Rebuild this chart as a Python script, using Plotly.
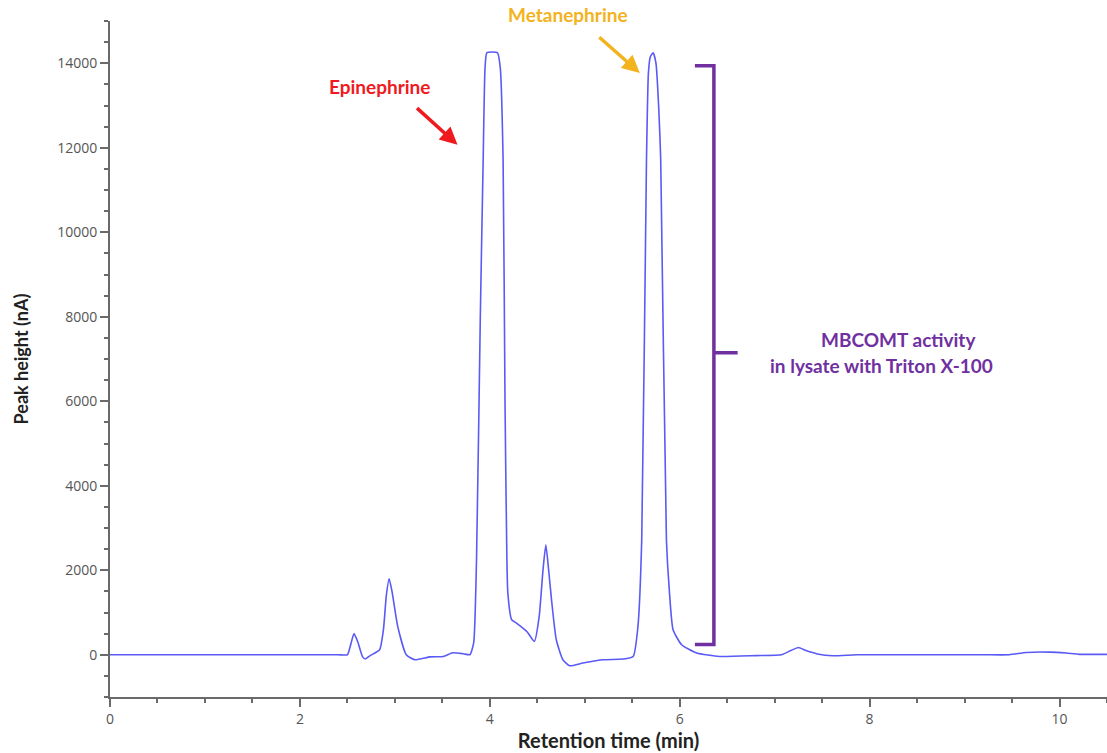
import plotly.graph_objects as go

# Chromatogram trace (retention time in min, peak height in nA)
time_min = [0, 1.0, 2.0, 2.40, 2.50, 2.53, 2.57, 2.61, 2.66, 2.69, 2.74, 2.84, 2.88, 2.91, 2.94, 2.97, 3.03,
            3.12, 3.21, 3.37, 3.51, 3.61, 3.72, 3.79, 3.83, 3.86, 3.90, 3.93, 3.95, 3.97,
            4.08, 4.11, 4.14, 4.16, 4.18, 4.19, 4.23, 4.28, 4.39, 4.47, 4.52, 4.56, 4.59,
            4.62, 4.65, 4.70, 4.77, 4.84, 4.98, 5.19, 5.40, 5.51, 5.56, 5.60, 5.65, 5.67,
            5.69, 5.72, 5.75, 5.78, 5.80, 5.86, 5.89, 5.93, 6.02, 6.18, 6.42, 6.8, 7.07, 7.17,
            7.25, 7.33, 7.45, 7.61, 7.86, 8.3, 8.8, 9.2, 9.47, 9.65, 9.90, 10.07, 10.21, 10.5]
peak_nA = [0, 0, 0, 0, 0, 200, 500, 300, -50, -100, -20, 118, 600, 1400, 1800, 1500, 670,
           0, -118, -50, -40, 47, 24, 0, 280, 2250, 8000, 11710, 13900, 14250,
           14250, 13900, 11710, 6000, 2250, 1460, 828, 750, 550, 316, 906, 2000, 2600,
           2000, 1300, 355, -118, -260, -197, -118, -102, -40, 670, 2720, 11710, 13760,
           14150, 14250, 14000, 12900, 11710, 2720, 1540, 590, 237, 40, -40, -20, 0, 100,
           173, 100, 20, -24, 0, 0, 0, 0, 0, 55, 63, 40, 10, 10]

x_ticks = [0, 2, 4, 6, 8, 10]
y_ticks = [0, 2000, 4000, 6000, 8000, 10000, 12000, 14000]

# Annotation anchors (data units; label of Metanephrine sits above the plot, in paper units)
epi_label = ("Epinephrine", 2.84, 13460)
epi_arrow_head = (3.66, 12070)
meta_label = ("Metanephrine", 4.82, 1.0089)
meta_arrow_head = (5.58, 13770)
bracket_x, bracket_arm_x, bracket_tip_x = 6.36, 6.16, 6.61
bracket_top, bracket_mid, bracket_bottom = 13940, 7150, 240
note_lines = [("MBCOMT activity", 8.30, 7450), ("in lysate with Triton X-100", 8.12, 6840)]

RED = "#f01a1e"
GOLD = "#f2b31c"
PURPLE = "#7030a0"
AXIS = "#6a6a6a"

fig = go.Figure()
fig.add_trace(go.Scatter(x=time_min, y=peak_nA, mode="lines",
                         line=dict(color="#5a5af5", width=1.6, shape="spline", smoothing=0.5),
                         hoverinfo="skip", showlegend=False))

# Bracket
bx, ba, bt = bracket_x, bracket_arm_x, bracket_tip_x
path = (f"M {ba},{bracket_top} L {bx},{bracket_top} L {bx},{bracket_mid} L {bt},{bracket_mid} "
        f"M {bx},{bracket_mid} L {bx},{bracket_bottom} L {ba},{bracket_bottom}")
fig.add_shape(type="path", path=path, xref="x", yref="y",
              line=dict(color=PURPLE, width=3.5))

# Labels and arrows
fig.add_annotation(x=epi_label[1], y=epi_label[2], text=f"<b>{epi_label[0]}</b>",
                   showarrow=False, font=dict(family="Lato", size=19, color=RED))
fig.add_annotation(x=epi_arrow_head[0], y=epi_arrow_head[1], ax=-42, ay=-38, text="",
                   showarrow=True, arrowhead=2, arrowsize=1, arrowwidth=3.5, arrowcolor=RED)
fig.add_annotation(x=meta_label[1], y=meta_label[2], yref="paper", yanchor="middle",
                   text=f"<b>{meta_label[0]}</b>",
                   showarrow=False, font=dict(family="Lato", size=19, color=GOLD))
fig.add_annotation(x=meta_arrow_head[0], y=meta_arrow_head[1], ax=-42, ay=-37, text="",
                   showarrow=True, arrowhead=2, arrowsize=1, arrowwidth=3.5, arrowcolor=GOLD)
for txt, xx, yy in note_lines:
    fig.add_annotation(x=xx, y=yy, text=f"<b>{txt}</b>", showarrow=False,
                       font=dict(family="Lato", size=19, color=PURPLE))

fig.update_xaxes(range=[0, 10.5], tickvals=x_ticks, ticktext=[str(v) for v in x_ticks],
                 showline=True, linecolor=AXIS, linewidth=2, ticks="outside", ticklen=8,
                 tickwidth=2, tickcolor=AXIS, showgrid=False, zeroline=False,
                 minor=dict(dtick=0.5, ticks="outside", ticklen=4, tickwidth=2, tickcolor=AXIS, showgrid=False),
                 tickfont=dict(family="Open Sans", size=14, color="#555555"),
                 title=dict(text="<b>Retention time (min)</b>", standoff=4,
                            font=dict(family="Lato", size=20, color="#222222")))
fig.update_yaxes(range=[-1000, 15000], tickvals=y_ticks, ticktext=[str(v) for v in y_ticks],
                 showline=True, linecolor=AXIS, linewidth=2, ticks="outside", ticklen=8,
                 tickwidth=2, tickcolor=AXIS, showgrid=False, zeroline=False,
                 minor=dict(dtick=500, ticks="outside", ticklen=4, tickwidth=2, tickcolor=AXIS, showgrid=False),
                 tickfont=dict(family="Open Sans", size=14, color="#555555"),
                 title=dict(text="<b>Peak height (nA)</b>", standoff=24,
                            font=dict(family="Lato", size=18, color="#222222")))

fig.update_layout(width=1107, height=753, margin=dict(l=110, r=0, t=21, b=56),
                  paper_bgcolor="white", plot_bgcolor="white", showlegend=False)

fig.write_html("out.html", config={"displayModeBar": False},
               post_script="document.body.style.margin='0px';document.body.style.overflow='hidden';")
